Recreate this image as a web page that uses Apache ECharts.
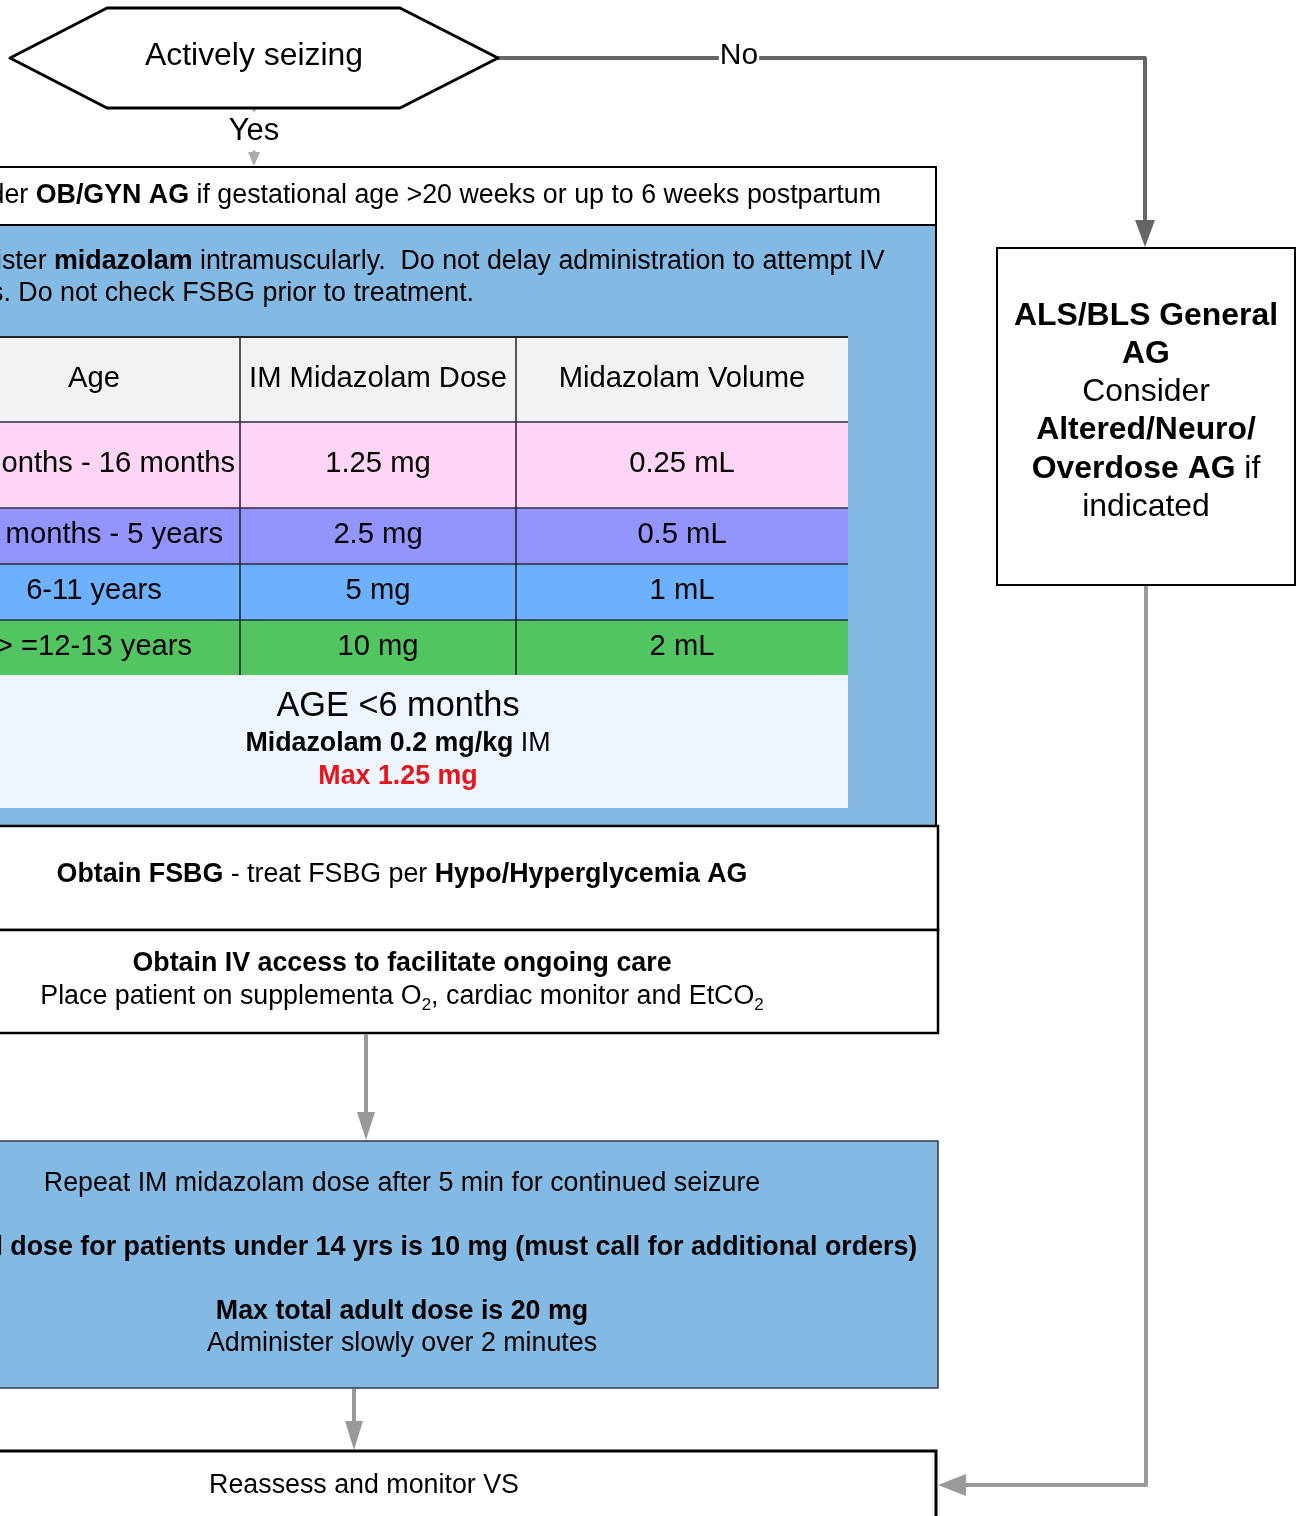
<!DOCTYPE html>
<html>
<head>
<meta charset="utf-8">
<script src="https://cdn.jsdelivr.net/npm/echarts@6/dist/echarts.min.js"></script>
<style>
html,body{margin:0;padding:0;background:#fff;}
#chart{width:1299px;height:1516px;}
</style>
</head>
<body>
<div id="chart"></div>
<script>
// ---- content ----
const decisionText = 'Actively seizing';
const branchLabels = ['Yes', 'No'];
const obgynText = 'Consider {b|OB/GYN AG} if gestational age >20 weeks or up to 6 weeks postpartum';
const adminLines = ['Administer {b|midazolam} intramuscularly.  Do not delay administration to attempt IV',
                    'access. Do not check FSBG prior to treatment.'];
const tableHeader = ['Age', 'IM Midazolam Dose', 'Midazolam Volume'];
const ageGroups = ['6 months - 16 months', '17 months - 5 years', '6-11 years', '> =12-13 years'];
const doses = ['1.25 mg', '2.5 mg', '5 mg', '10 mg'];
const volumes = ['0.25 mL', '0.5 mL', '1 mL', '2 mL'];
const infantRule = ['AGE <6 months', '{b|Midazolam 0.2 mg/kg} IM', '{r|Max 1.25 mg}'];
const fsbgText = '{b|Obtain FSBG} - treat FSBG per {b|Hypo/Hyperglycemia AG}';
const ivLines = ['{b|Obtain IV access to facilitate ongoing care}',
                 'Place patient on supplementa O{s|2}, cardiac monitor and EtCO{s|2}'];
const repeatLines = ['Repeat IM midazolam dose after 5 min for continued seizure',
                     '{b|Max total dose for patients under 14 yrs is 10 mg (must call for additional orders)}',
                     '{b|Max total adult dose is 20 mg}',
                     'Administer slowly over 2 minutes'];
const reassessText = 'Reassess and monitor VS';
const generalLines = ['{b|ALS/BLS General}', '{b|AG}', 'Consider', '{b|Altered/Neuro/}', '{b|Overdose AG} if', 'indicated'];

// ---- styles ----
const FONT = '"Liberation Sans", Arial, Helvetica, sans-serif';
const rowFills = ['#F1F2F4', '#FFD5F5', '#9494FF', '#6DB1FE', '#53C462'];
const BLUE = '#84B9E3';
const BODY = 26.8;

function richFor(size) {
  return {
    b: {fontFamily: FONT, fontSize: size, fontWeight: 'bold', fill: '#000', lineHeight: size + 6},
    r: {fontFamily: FONT, fontSize: size, fontWeight: 'bold', fill: '#E3161B', lineHeight: size + 6},
    n: {fontFamily: FONT, fontSize: size, fill: '#000', lineHeight: size + 6},
    s: {fontFamily: FONT, fontSize: Math.round(size * 0.65), fill: '#000', verticalAlign: 'bottom', lineHeight: Math.round(size * 0.65)}
  };
}
function txt(text, x, y, size, opts) {
  opts = opts || {};
  const align = opts.align || 'center';
  return {
    type: 'text', x: x, y: y + 2, z: opts.z || 10,
    style: {
      text: text, fontFamily: FONT, fontSize: size,
      fontWeight: opts.bold ? 'bold' : 'normal',
      fill: opts.color || '#000',
      align: align, verticalAlign: 'middle',
      textAlign: align, textVerticalAlign: 'middle',
      lineHeight: size + 6,
      backgroundColor: opts.bg, padding: opts.pad,
      rich: richFor(size)
    }
  };
}
function rect(x, y, w, h, fill, stroke, lw, z) {
  return {type: 'rect', shape: {x: x, y: y, width: w, height: h}, z: z || 1,
    style: {fill: fill, stroke: stroke || null, lineWidth: lw || 0}};
}
function line(pts, color, lw, z) {
  return {type: 'polyline', shape: {points: pts}, z: z || 3,
    style: {stroke: color, lineWidth: lw, fill: null, lineJoin: 'round', lineCap: 'butt'}};
}
function head(pts, color, z) {
  return {type: 'polygon', shape: {points: pts}, z: z || 4, style: {fill: color, stroke: null}};
}

const g = [];

// Decision hexagon
g.push({type: 'polygon', z: 5, shape: {points: [[10, 58], [107, 8], [400, 8], [498, 58], [400, 108], [107, 108]]},
  style: {fill: '#fff', stroke: '#000', lineWidth: 3, lineJoin: 'round'}});
g.push(txt(decisionText, 254, 54, 31.9, {z: 6}));

// Yes connector
g.push(line([[254, 108], [254, 156]], '#AAAAAA', 3));
g.push(head([[248, 152], [260, 152], [254, 166]], '#AAAAAA'));
g.push(txt(branchLabels[0], 254, 129, 31, {bg: '#fff', pad: [1, 2], z: 8}));

// No connector
g.push(line([[498, 58], [1145, 58], [1145, 224]], '#666666', 4));
g.push(head([[1135, 220], [1155, 220], [1145, 247]], '#666666'));
g.push(txt(branchLabels[1], 739, 54, 30, {bg: '#fff', pad: [2, 1], z: 8}));

// Box 1: OB/GYN
g.push(rect(-10, 167, 946, 58, '#fff', '#000', 2));
g.push(txt(obgynText, 401, 194, BODY));

// Box 2: administer midazolam
g.push(rect(-10, 225, 946, 601, BLUE, '#000', 2));
g.push(txt(adminLines[0], -80, 260, BODY, {align: 'left'}));
g.push(txt(adminLines[1], -80, 292, BODY, {align: 'left'}));

// Dose table
const colX = [-52, 240, 516, 848];
const rowY = [337, 422, 508, 564, 620, 675];
const tableRows = [tableHeader].concat(ageGroups.map((a, i) => [a, doses[i], volumes[i]]));
tableRows.forEach((row, r) => {
  g.push(rect(colX[0], rowY[r], colX[3] - colX[0], rowY[r + 1] - rowY[r], rowFills[r], null, 0, 2));
  row.forEach((cell, c) => {
    const cx = (colX[c] + colX[c + 1]) / 2;
    const cy = (rowY[r] + rowY[r + 1]) / 2 - 3;
    g.push(txt(cell, cx, cy, 29.2));
  });
});
for (let r = 0; r < rowY.length - 1; r++) {
  g.push(line([[colX[0], rowY[r]], [colX[3], rowY[r]]], r === 0 ? '#222' : '#2E2E3E', r === 0 ? 2 : 1.5, 5));
}
[1, 2].forEach(c => g.push(line([[colX[c], rowY[0]], [colX[c], rowY[5]]], '#222', 1.5, 5)));

// Infant rule panel
g.push(rect(colX[0], 675, colX[3] - colX[0], 133, '#EEF5FE', null, 0, 2));
g.push(txt(infantRule[0], 398, 705, 34.3));
g.push(txt(infantRule[1], 398, 742, BODY));
g.push(txt(infantRule[2], 398, 775, BODY));

// Box 3: FSBG
g.push(rect(-10, 826, 948, 104, '#fff', '#000', 2.5));
g.push(txt(fsbgText, 402, 873, BODY));

// Box 4: IV access
g.push(rect(-10, 930, 948, 103, '#fff', '#000', 2.5));
g.push(txt(ivLines[0], 402, 962, BODY));
g.push(txt(ivLines[1], 402, 995, BODY));

// Arrow 4 -> 5
g.push(line([[366, 1034], [366, 1116]], '#999999', 4));
g.push(head([[357, 1112], [375, 1112], [366, 1140]], '#999999'));

// Box 5: repeat dose
g.push(rect(-10, 1141, 948, 247, BLUE, '#2F3A45', 1.5));
g.push(txt(repeatLines[0], 402, 1182, BODY));
g.push(txt(repeatLines[1], 402, 1246, BODY));
g.push(txt(repeatLines[2], 402, 1310, BODY));
g.push(txt(repeatLines[3], 402, 1342, BODY));

// Arrow 5 -> 6
g.push(line([[354, 1389], [354, 1425]], '#999999', 4));
g.push(head([[345, 1421], [363, 1421], [354, 1450]], '#999999'));

// Box 6: reassess
g.push(rect(-10, 1451, 946, 100, '#fff', '#000', 3));
g.push(txt(reassessText, 364, 1484, BODY));

// Right box: ALS/BLS General
g.push(rect(997, 248, 298, 337, '#fff', '#000', 2));
generalLines.forEach((t, i) => g.push(txt(t, 1146, 314 + i * 38.2, 31.9)));

// Right connector to reassess
g.push(line([[1146, 586], [1146, 1485], [964, 1485]], '#9A9A9A', 4));
g.push(head([[966, 1474], [966, 1496], [938, 1485]], '#9A9A9A'));

const chart = echarts.init(document.getElementById('chart'), null, {renderer: 'canvas'});
chart.setOption({
  backgroundColor: '#fff',
  animation: false,
  graphic: {elements: g}
});
</script>
</body>
</html>
